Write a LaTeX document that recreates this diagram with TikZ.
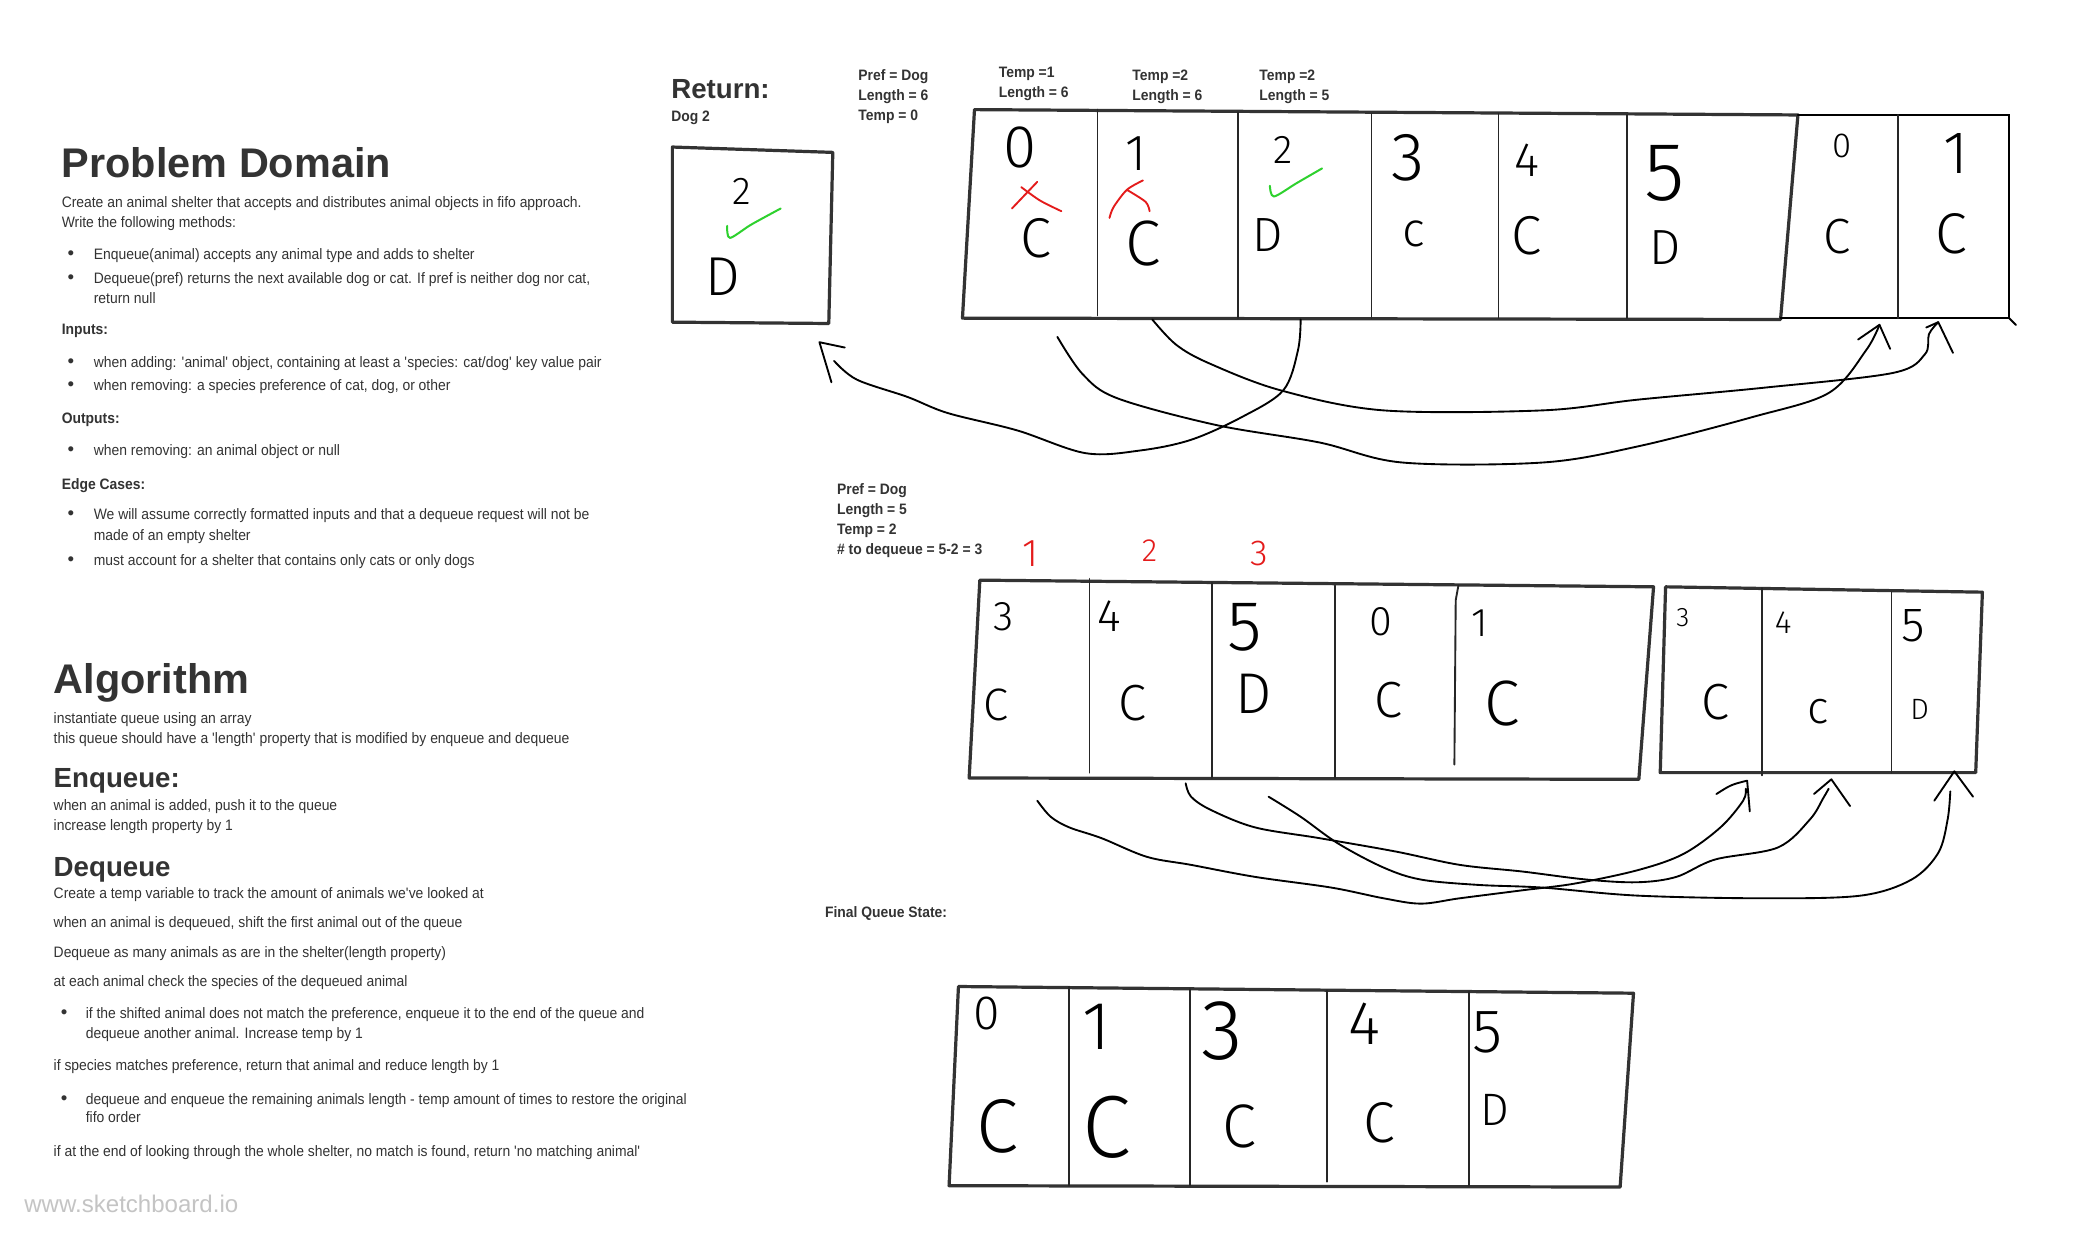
\documentclass[tikz,border=0pt]{standalone}
\usepackage{fontspec}
\setmainfont[FakeStretch=0.92]{Liberation Sans}
\newfontfamily\headfont{Liberation Sans}
\newfontfamily\handfont{Fira Sans Light}
\usetikzlibrary{calc}
\definecolor{ink}{HTML}{333333}
\definecolor{redink}{HTML}{E41B1B}
\definecolor{greenink}{HTML}{2ED12E}
\definecolor{wmark}{HTML}{C4C4C4}
\newcommand\txtsz{\fontsize{11.3}{15}\selectfont}
\newcommand\hs[1]{\handfont\fontsize{#1}{#1}\selectfont}
\newcommand\q{\textquotesingle}
\tikzset{
  txt/.style={anchor=base west, inner sep=0pt, text=ink, font=\txtsz},
  lbl/.style={anchor=base west, inner sep=0pt, text=ink, font=\txtsz\bfseries},
  bul/.style={anchor=base, inner sep=0pt, text=ink, font=\headfont\fontsize{14}{15}\selectfont},
  hd/.style={anchor=base west, inner sep=0pt, text=ink, font=\headfont\bfseries\fontsize{31}{31}\selectfont},
  subhd/.style={anchor=base west, inner sep=0pt, text=ink, font=\headfont\bfseries\fontsize{20.7}{21}\selectfont},
  hand/.style={inner sep=0pt, text=black},
  redhand/.style={inner sep=0pt, text=redink},
  frame/.style={draw=ink, line width=2.4pt, line join=round, line cap=round},
  thinframe/.style={draw=black, line width=1.5pt, line cap=round},
  divider/.style={draw=black!85, line width=1.4pt, line cap=round},
  wire/.style={draw=black, line width=1.4pt, line cap=round, line join=round},
  redmark/.style={draw=redink, line width=1.4pt, line cap=round, line join=round},
  greenmark/.style={draw=greenink, line width=1.5pt, line cap=round, line join=round},
}
\begin{document}
\begin{tikzpicture}[x=1pt,y=-1pt]
\useasboundingbox (0,0) rectangle (1568,928);
\fill[white] (0,0) rectangle (1568,928);

% ---------------- Problem Domain ----------------
\node[hd] (pdh) at (46,133) {Problem Domain};
\node[txt] (pd1) at (46,155) {Create an animal shelter that accepts and distributes animal objects in fifo approach.};
\node[txt] (pd2) at (46,170) {Write the following methods:};
\node[bul] (pdb1) at (53,194) {\textbullet};
\node[txt] (pd3) at (70,194) {Enqueue(animal) accepts any animal type and adds to shelter};
\node[bul] (pdb2) at (53,212) {\textbullet};
\node[txt] (pd4) at (70,212) {Dequeue(pref) returns the next available dog or cat. If pref is neither dog nor cat,};
\node[txt] (pd5) at (70,227) {return null};
\node[lbl] (pdin) at (46,250) {Inputs:};
\node[bul] (pdb3) at (53,275) {\textbullet};
\node[txt] (pd6) at (70,275) {when adding: \q animal\q{} object, containing at least a \q species: cat/dog\q{} key value pair};
\node[bul] (pdb4) at (53,292) {\textbullet};
\node[txt] (pd7) at (70,292) {when removing: a species preference of cat, dog, or other};
\node[lbl] (pdout) at (46,317) {Outputs:};
\node[bul] (pdb5) at (53,341) {\textbullet};
\node[txt] (pd8) at (70,341) {when removing: an animal object or null};
\node[lbl] (pdec) at (46,366) {Edge Cases:};
\node[bul] (pdb6) at (53,389) {\textbullet};
\node[txt] (pd9) at (70,389) {We will assume correctly formatted inputs and that a dequeue request will not be};
\node[txt] (pd10) at (70,404) {made of an empty shelter};
\node[bul] (pdb7) at (53,423) {\textbullet};
\node[txt] (pd11) at (70,423) {must account for a shelter that contains only cats or only dogs};

% ---------------- Algorithm ----------------
\node[hd] (alh) at (40,519) {Algorithm};
\node[txt] (al1) at (40,541) {instantiate queue using an array};
\node[txt] (al2) at (40,556) {this queue should have a \q length\q{} property that is modified by enqueue and dequeue};
\node[subhd] (enh) at (40,589) {Enqueue:};
\node[txt] (en1) at (40,606) {when an animal is added, push it to the queue};
\node[txt] (en2) at (40,621) {increase length property by 1};
\node[subhd] (deh) at (40,656) {Dequeue};
\node[txt] (de1) at (40,672) {Create a temp variable to track the amount of animals we\q ve looked at};
\node[txt] (de2) at (40,694) {when an animal is dequeued, shift the first animal out of the queue};
\node[txt] (de3) at (40,716) {Dequeue as many animals as are in the shelter(length property)};
\node[txt] (de4) at (40,738) {at each animal check the species of the dequeued animal};
\node[bul] (deb1) at (48,762) {\textbullet};
\node[txt] (de5) at (64,762) {if the shifted animal does not match the preference, enqueue it to the end of the queue and};
\node[txt] (de6) at (64,777) {dequeue another animal. Increase temp by 1};
\node[txt] (de7) at (40,801) {if species matches preference, return that animal and reduce length by 1};
\node[bul] (deb2) at (48,826) {\textbullet};
\node[txt] (de8) at (64,826) {dequeue and enqueue the remaining animals length - temp amount of times to restore the original};
\node[txt] (de9) at (64,840) {fifo order};
\node[txt] (de10) at (40,865) {if at the end of looking through the whole shelter, no match is found, return \q no matching animal\q};
\node[anchor=base west, inner sep=0pt, text=wmark, font=\headfont\fontsize{18}{18}\selectfont] (wm) at (18,907) {www.sketchboard.io};

% ---------------- Labels ----------------
\node[subhd] (ret) at (502,74) {Return:};
\node[lbl] (dog2) at (502,91) {Dog 2};
\node[lbl] (l1a) at (642,60) {Pref = Dog};
\node[lbl] (l1b) at (642,75) {Length = 6};
\node[lbl] (l1c) at (642,90) {Temp = 0};
\node[lbl] (l2a) at (747,58) {Temp =1};
\node[lbl] (l2b) at (747,73) {Length = 6};
\node[lbl] (l3a) at (847,60) {Temp =2};
\node[lbl] (l3b) at (847,75) {Length = 6};
\node[lbl] (l4a) at (942,60) {Temp =2};
\node[lbl] (l4b) at (942,75) {Length = 5};
\node[lbl] (m1a) at (626,370) {Pref = Dog};
\node[lbl] (m1b) at (626,385) {Length = 5};
\node[lbl] (m1c) at (626,400) {Temp = 2};
\node[lbl] (m1d) at (626,415) {\# to dequeue = 5-2 = 3};
\node[lbl] (fqs) at (617,686) {Final Queue State:};

% ---------------- Return box ----------------
\draw[frame] (503,110) -- (623,114) -- (620,242) -- (503,241) -- cycle;
\node[hand, font={\hs{29}}] (r2) at (555,143) {2};
\node[hand, font={\hs{41}}] (rD) at (541,207) {D};
\draw[greenmark] plot[smooth, tension=0.5] coordinates {(544,169) (546,178) (562,168) (584,156)};

% ---------------- Top queue ----------------
\draw[frame] (1345,86) -- (729,82) -- (720,238) -- (1332,239) -- cycle;
\draw[thinframe] (1345,86) -- (1503,86) -- (1503,238) -- (1332,238);
\draw[thinframe] (1503,238) -- (1508,243);
\foreach \xa/\ya/\yb in {821/82/236, 926/84/238, 1026/85/238, 1121/85/238, 1217/86/238, 1420/86/238}
  \draw[divider] (\xa,\ya) -- (\xa,\yb);
\node[hand, font={\hs{45}}] (t0n) at (763,110) {0};
\node[hand, font={\hs{42}}] (t0c) at (775,178) {C};
\node[hand, font={\hs{38}}] (t1n) at (850,115) {1};
\node[hand, font={\hs{48}}] (t1c) at (855,182) {C};
\node[hand, font={\hs{30}}] (t2n) at (960,112) {2};
\node[hand, font={\hs{36}}] (t2c) at (948,176) {D};
\node[hand, font={\hs{51}}] (t3n) at (1053,118) {3};
\node[hand, font={\hs{36}}] (t3c) at (1058,175) {c};
\node[hand, font={\hs{36}}] (t4n) at (1142,120) {4};
\node[hand, font={\hs{41}}] (t4c) at (1142,176) {C};
\node[hand, font={\hs{62}}] (t5n) at (1245,130) {5};
\node[hand, font={\hs{37}}] (t5c) at (1246,185) {D};
\node[hand, font={\hs{26}}] (t6n) at (1378,109) {0};
\node[hand, font={\hs{37}}] (t6c) at (1374,177) {C};
\node[hand, font={\hs{45}}] (t7n) at (1463,115) {1};
\node[hand, font={\hs{43}}] (t7c) at (1460,175) {C};
% red crosses and green check
\draw[redmark] (757,156) -- (776,136);
\draw[redmark] plot[smooth, tension=0.5] coordinates {(764,140) (778,150) (794,158)};
\draw[redmark] plot[smooth, tension=0.5] coordinates {(830,163) (833,155) (843,142) (855,135)};
\draw[redmark] plot[smooth, tension=0.5] coordinates {(843,142) (857,151) (860,158)};
\draw[greenmark] plot[smooth, tension=0.5] coordinates {(950,139) (953,147) (970,137) (989,126)};

% top connectors
\coordinate (cAs) at (791,252);
\coordinate (cAe) at (1406,243);
\coordinate (cBs) at (862,239);
\coordinate (cBe) at (1450,241);
\coordinate (cCs) at (973,239);
\coordinate (cCe) at (624,270);
\coordinate (retTip) at (613,256);
\draw[wire] plot[smooth, tension=0.55] coordinates {(cAs) (810,280) (836,298) (910,318) (987,331) (1049,346) (1154,346) (1225,334) (1311,312) (1368,294) (1396,262) (cAe)};
\draw[wire] plot[smooth, tension=0.55] coordinates {(cBs) (880,258) (905,272) (958,292) (1035,307) (1154,307) (1225,299) (1320,290) (1416,279) (1440,265) (1443,250) (cBe)};
\draw[wire] plot[smooth, tension=0.55] coordinates {(cCs) (971,262) (960,292) (929,312) (891,329) (853,337) (812,339) (761,322) (709,309) (679,297) (641,284) (cCe)};
\draw[wire] ($(cAe)+(-16,11)$) -- (cAe) -- ($(cAe)+(8,18)$);
\draw[wire] ($(cBe)+(-9,4)$) -- (cBe) -- ($(cBe)+(11,23)$);
\draw[wire] ($(retTip)+(19,4)$) -- (retTip) -- ($(retTip)+(9,30)$);

% ---------------- Middle queues ----------------
\draw[frame] (733,434) -- (1237,439) -- (1226,583) -- (725,582) -- cycle;
\draw[divider] (815,433) -- (815,578);
\draw[divider] (907,436) -- (907,582);
\draw[divider] (999,438) -- (999,582);
\draw[divider] (1091,438) -- (1089,449) -- (1088,572);
\node[hand, font={\hs{31}}] (m0n) at (751,461) {3};
\node[hand, font={\hs{34}}] (m0c) at (745,527) {C};
\node[hand, font={\hs{34}}] (m1n) at (830,461) {4};
\node[hand, font={\hs{38}}] (m1c) at (847,526) {C};
\node[hand, font={\hs{53}}] (m2n) at (931,469) {5};
\node[hand, font={\hs{43}}] (m2c) at (938,519) {D};
\node[hand, font={\hs{31}}] (m3n) at (1033,465) {0};
\node[hand, font={\hs{38}}] (m3c) at (1039,524) {C};
\node[hand, font={\hs{30}}] (m4n) at (1107,466) {1};
\node[hand, font={\hs{48}}] (m4c) at (1124,526) {C};
\node[redhand, font={\hs{29}}] (rd1) at (771,414) {1};
\node[redhand, font={\hs{24}}] (rd2) at (860,412) {2};
\node[redhand, font={\hs{27}}] (rd3) at (942,414) {3};

\draw[frame] (1246,439) -- (1483,443) -- (1478,578) -- (1242,578) -- cycle;
\draw[divider] (1318,440) -- (1318,580);
\draw[divider] (1415,443) -- (1415,578);
\node[hand, font={\hs{20}}] (n0n) at (1259,462) {3};
\node[hand, font={\hs{38}}] (n0c) at (1283,525) {C};
\node[hand, font={\hs{24}}] (n1n) at (1334,466) {4};
\node[hand, font={\hs{34}}] (n1c) at (1360,532) {c};
\node[hand, font={\hs{36}}] (n2n) at (1431,468) {5};
\node[hand, font={\hs{22}}] (n2c) at (1436,531) {D};

% middle connectors
\coordinate (mAs) at (776,599);
\coordinate (mAe) at (1307,584);
\coordinate (mBs) at (887,586);
\coordinate (mBe) at (1370,583);
\coordinate (mCs) at (949,596);
\coordinate (mCe) at (1462,577);
\draw[wire] plot[smooth, tension=0.55] coordinates {(mAs) (786,611) (800,619) (824,627) (858,641) (891,647) (939,656) (996,664) (1035,672) (1063,676) (1092,672) (1139,666) (1178,661) (1225,651) (1259,639) (1287,619) (1304,599) (1306,590)};
\draw[wire] plot[smooth, tension=0.55] coordinates {(mBs) (891,596) (906,606) (939,619) (987,627) (1044,637) (1092,647) (1139,652) (1187,658) (1225,660) (1254,656) (1283,643) (1330,634) (1354,613) (1364,597) (1368,590)};
\draw[wire] plot[smooth, tension=0.55] coordinates {(mCs) (973,611) (1001,631) (1035,649) (1063,658) (1106,662) (1154,664) (1225,670) (1320,672) (1392,670) (1430,658) (1450,638) (1457,613) (1459,592)};
\draw[wire] ($(mAe)+(-23,10)$) .. controls ($(mAe)+(-12,3)$) .. (mAe) -- ($(mAe)+(2,23)$);
\draw[wire] ($(mBe)+(-13,11)$) -- (mBe) -- ($(mBe)+(14,20)$);
\draw[wire] ($(mCe)+(-15,22)$) -- (mCe) -- ($(mCe)+(14,19)$);

% ---------------- Final queue ----------------
\draw[frame] (717,738) -- (1222,743) -- (1212,888) -- (710,887) -- cycle;
\draw[divider] (800,738) -- (800,887);
\draw[divider] (890,740) -- (890,887);
\draw[divider] (993,741) -- (993,884);
\draw[divider] (1099,742) -- (1099,887);
\node[hand, font={\hs{36}}] (f0n) at (738,758) {0};
\node[hand, font={\hs{57}}] (f0c) at (746,843) {C};
\node[hand, font={\hs{51}}] (f1n) at (820,768) {1};
\node[hand, font={\hs{66}}] (f1c) at (828,843) {C};
\node[hand, font={\hs{64}}] (f2n) at (914,771) {3};
\node[hand, font={\hs{46}}] (f2c) at (927,843) {C};
\node[hand, font={\hs{46}}] (f3n) at (1021,766) {4};
\node[hand, font={\hs{43}}] (f3c) at (1032,840) {C};
\node[hand, font={\hs{46}}] (f4n) at (1113,772) {5};
\node[hand, font={\hs{34}}] (f4c) at (1118,830) {D};
\end{tikzpicture}
\end{document}
